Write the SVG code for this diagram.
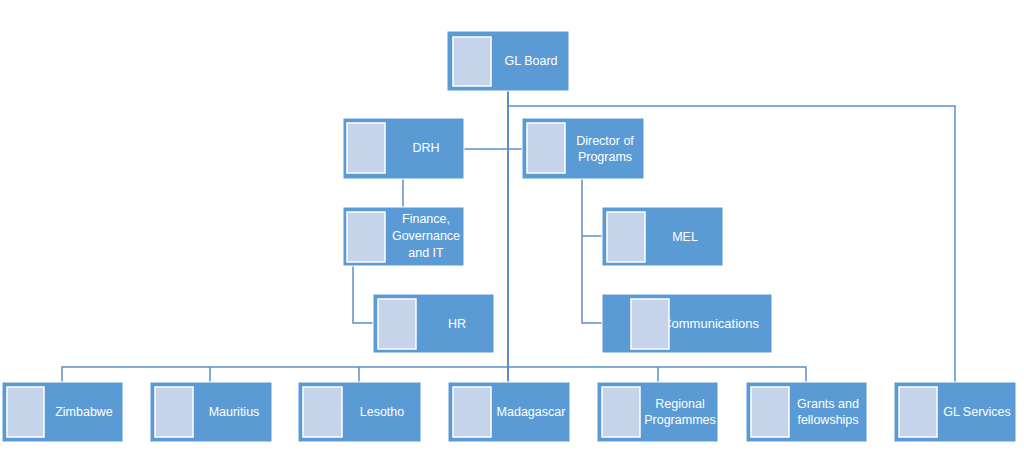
<svg xmlns="http://www.w3.org/2000/svg" width="1024" height="473" viewBox="0 0 1024 473">
<style>
.box{fill:#5B9BD5;stroke:#ffffff;stroke-width:1}
.ph{fill:#C5D4EA;stroke:#ffffff;stroke-width:1.5}
.t{font-family:"Liberation Sans",Arial,sans-serif;font-size:12.5px;fill:#ffffff;text-anchor:middle}
.ln{fill:none;stroke:#5B8FCB;stroke-width:1.5}
</style>
<rect width="1024" height="473" fill="#ffffff"/>
<g id="connectors">
<path class="ln" d="M508,91 V382" style="stroke-width:2"/>
<path class="ln" d="M508,106 H955 V382"/>
<path class="ln" d="M464,149 H522"/>
<path class="ln" d="M403,179 V207"/>
<path class="ln" d="M353,266 V323 H373"/>
<path class="ln" d="M582,179 V323 H602"/>
<path class="ln" d="M582,236 H602"/>
<path class="ln" d="M62,382 V367 H806 V382"/>
<path class="ln" d="M210,367 V382"/>
<path class="ln" d="M359,367 V382"/>
<path class="ln" d="M658,367 V382"/>
</g>
<g id="gl-board"><rect class="box" x="447" y="31" width="122" height="60"/><rect class="ph" x="453" y="37" width="38" height="49"/><text class="t" x="531" y="65">GL Board</text></g>
<g id="drh"><rect class="box" x="343" y="118" width="121" height="61"/><rect class="ph" x="347" y="123" width="38" height="50"/><text class="t" x="426" y="152">DRH</text></g>
<g id="director"><rect class="box" x="522" y="118" width="122" height="61"/><rect class="ph" x="527" y="123" width="38" height="50"/><text class="t" x="605" y="145">Director of</text><text class="t" x="605" y="161">Programs</text></g>
<g id="finance"><rect class="box" x="343" y="207" width="121" height="59"/><rect class="ph" x="347" y="212" width="38" height="50"/><text class="t" x="426" y="223">Finance,</text><text class="t" x="426" y="240">Governance</text><text class="t" x="426" y="257">and IT</text></g>
<g id="mel"><rect class="box" x="602" y="207" width="121" height="59"/><rect class="ph" x="607" y="212" width="38" height="50"/><text class="t" x="685" y="241">MEL</text></g>
<g id="hr"><rect class="box" x="373" y="294" width="121" height="59"/><rect class="ph" x="378" y="299" width="38" height="50"/><text class="t" x="457" y="328">HR</text></g>
<g id="communications"><rect class="box" x="602" y="294" width="170" height="59"/><text class="t" x="759" y="328" style="text-anchor:end;font-size:13px">Communications</text><rect class="ph" x="631" y="299" width="38" height="50"/></g>
<g id="zimbabwe"><rect class="box" x="2" y="382" width="121" height="60"/><rect class="ph" x="7" y="387" width="37" height="50"/><text class="t" x="84" y="416">Zimbabwe</text></g>
<g id="mauritius"><rect class="box" x="150" y="382" width="122" height="60"/><rect class="ph" x="155" y="387" width="38" height="50"/><text class="t" x="234" y="416">Mauritius</text></g>
<g id="lesotho"><rect class="box" x="298" y="382" width="123" height="60"/><rect class="ph" x="303" y="387" width="39" height="50"/><text class="t" x="382" y="416">Lesotho</text></g>
<g id="madagascar"><rect class="box" x="448" y="382" width="122" height="60"/><rect class="ph" x="453" y="387" width="38" height="50"/><text class="t" x="531" y="416">Madagascar</text></g>
<g id="regional"><rect class="box" x="597" y="382" width="121" height="60"/><rect class="ph" x="602" y="387" width="38" height="50"/><text class="t" x="680" y="408">Regional</text><text class="t" x="680" y="424">Programmes</text></g>
<g id="grants"><rect class="box" x="746" y="382" width="121" height="60"/><rect class="ph" x="751" y="387" width="38" height="50"/><text class="t" x="828" y="408">Grants and</text><text class="t" x="828" y="424">fellowships</text></g>
<g id="gl-services"><rect class="box" x="894" y="382" width="122" height="60"/><rect class="ph" x="899" y="387" width="38" height="50"/><text class="t" x="977" y="416">GL Services</text></g>
</svg>
